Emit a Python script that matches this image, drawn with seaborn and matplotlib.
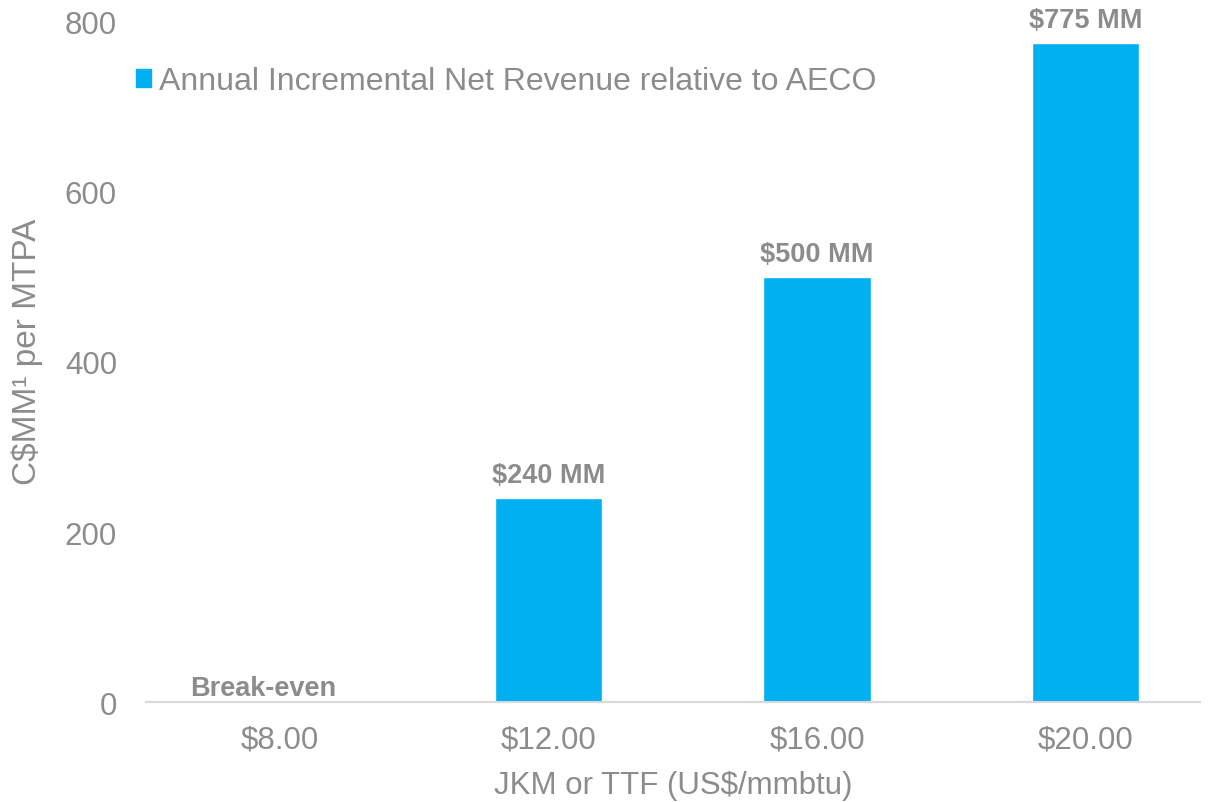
import matplotlib.pyplot as plt
import seaborn as sns
import pandas as pd
from matplotlib.patches import Patch

prices = ["$8.00", "$12.00", "$16.00", "$20.00"]
net_revenue = [0, 240, 500, 775]
bar_text = ["Break-even", "$240 MM", "$500 MM", "$775 MM"]
series_name = "Annual Incremental Net Revenue relative to AECO"

BAR_COLOR = "#00B0F0"
TEXT_COLOR = "#8C8C8C"


def main() -> None:
    sns.set_theme(style="white")
    plt.rcParams["font.family"] = ["Liberation Sans", "DejaVu Sans"]

    df = pd.DataFrame({"price": prices, "revenue": net_revenue})

    fig = plt.figure(figsize=(12.11, 8.03), dpi=100)
    ax = fig.add_axes([0.1206, 0.1245, 0.87, 0.8469])
    sns.barplot(data=df, x="price", y="revenue", color=BAR_COLOR, width=0.4,
                saturation=1, ax=ax)

    labels = ax.bar_label(ax.containers[0], labels=bar_text, padding=7, fontsize=19.5,
                          fontweight="bold", color=TEXT_COLOR)
    # break-even sits a bit left and lower than the other labels
    labels[0].xyann = (-12, 1)

    ax.set_ylim(0, 800)
    ax.set_xlim(-0.5, 3.425)
    ax.set_yticks([0, 200, 400, 600, 800])
    ax.tick_params(axis="both", length=0, labelsize=22.5, labelcolor=TEXT_COLOR)
    ax.tick_params(axis="x", pad=16)
    ax.tick_params(axis="y", pad=21)

    for side in ["top", "right", "left"]:
        ax.spines[side].set_visible(False)
    ax.spines["bottom"].set_color("#D9D9D9")
    ax.spines["bottom"].set_linewidth(1.5)

    ax.set_xlabel("JKM or TTF (US$/mmbtu)", fontsize=22.5, color=TEXT_COLOR, labelpad=11)
    ax.set_ylabel("C$MM¹ per MTPA", fontsize=24, color=TEXT_COLOR)
    ax.yaxis.set_label_coords(-0.098, 0.516)

    ax.legend(handles=[Patch(color=BAR_COLOR, label=series_name)],
              loc="upper left", bbox_to_anchor=(-0.037, 0.977), frameon=False,
              fontsize=23, labelcolor=TEXT_COLOR, handlelength=0.48,
              handleheight=0.48, handletextpad=0.25)

    fig.savefig("out.png", dpi=100)
    plt.close(fig)


if __name__ == "__main__":
    main()
